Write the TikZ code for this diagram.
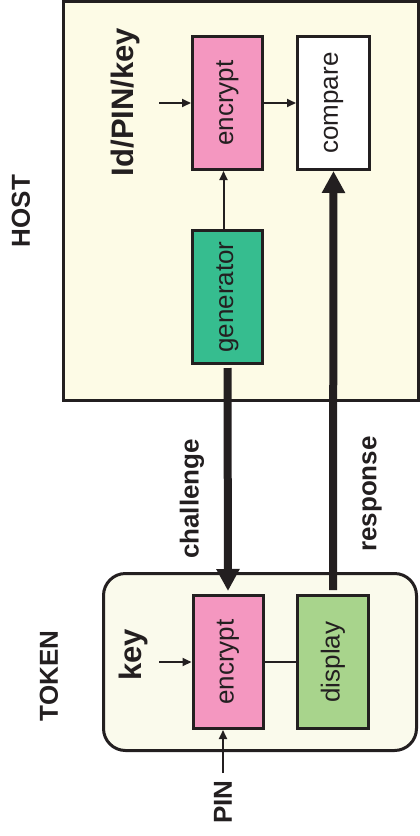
\documentclass[tikz,border=0pt]{standalone}
\usepackage{fontspec}
\setmainfont{Liberation Sans}
\usetikzlibrary{arrows.meta}
\definecolor{ink}{HTML}{231F20}
\definecolor{hostbg}{HTML}{FDFBE6}
\definecolor{tokbg}{HTML}{FAFAEC}
\definecolor{pinkc}{HTML}{F497C0}
\definecolor{tealc}{HTML}{36BD8F}
\definecolor{greenc}{HTML}{A8D48C}
\tikzset{
  blk/.style={draw=ink, line width=3pt, minimum width=70pt, minimum height=133pt, inner sep=0pt, text=ink},
  lbl/.style={inner sep=0pt, text=ink},
  thin/.style={draw=ink, line width=2pt, -{Triangle[length=9pt,width=8pt]}},
  plain/.style={draw=ink, line width=2pt},
  thick/.style={draw=ink, line width=8pt, -{Triangle[length=22pt,width=22pt]}},
}
\newcommand{\boxtxt}[1]{\rotatebox{90}{\fontsize{26}{30}\selectfont #1}}
\newcommand{\bigtxt}[1]{\rotatebox{90}{\fontsize{31}{36}\selectfont\bfseries #1}}
\newcommand{\lbltxt}[1]{\rotatebox{90}{\fontsize{26}{30}\selectfont\bfseries #1}}
\begin{document}
\begin{tikzpicture}[x=1pt,y=-1pt]
\useasboundingbox (0,0) rectangle (420,836);
% frames
\draw[draw=ink, fill=hostbg, line width=3.5pt] (63.5,1.5) rectangle (418.5,400.5);
\draw[draw=ink, fill=tokbg, line width=3pt, rounded corners=22pt] (103.5,573.5) rectangle (416.5,750.5);
% host blocks
\node[blk, fill=pinkc] (henc) at (227.5,103) {\boxtxt{encrypt}};
\node[blk, fill=white, minimum width=72pt] (cmp) at (333.5,103) {\boxtxt{compare}};
\node[blk, fill=tealc] (gen) at (227.5,297) {\boxtxt{generator}};
% token blocks
\node[blk, fill=pinkc] (tenc) at (228,662) {\boxtxt{encrypt}};
\node[blk, fill=greenc, minimum width=71pt] (disp) at (333,662) {\boxtxt{display}};
% labels
\node[lbl] (host) at (21,211) {\lbltxt{HOST}};
\node[lbl] (idpin) at (125,102) {\bigtxt{Id/PIN/key}};
\node[lbl] (chal) at (192,499) {\lbltxt{challenge}};
\node[lbl] (resp) at (372,494) {\lbltxt{response}};
\node[lbl] (token) at (49,676) {\lbltxt{TOKEN}};
\node[lbl] (key) at (133,655) {\bigtxt{key}};
\node[lbl] (pin) at (223,802) {\lbltxt{PIN}};
% free ends
\coordinate (hin) at (159,103);
\coordinate (kin) at (159,662);
\coordinate (pinin) at (223,773);
% connectors
\draw[thin] (hin) -- (henc.west);
\draw[thin] (henc.east) -- (cmp.west);
\draw[thin] ([xshift=-4pt]gen.north) -- ([xshift=-4pt]henc.south);
\draw[thin] (kin) -- (tenc.west);
\draw[plain] (tenc.east) -- (disp.west);
\draw[thin] (pinin) -- (pinin |- tenc.south);
\draw[thick, shorten <=3pt, shorten >=3pt] (gen.south) -- (tenc.north);
\draw[thick, shorten <=4pt] (disp.north) -- (cmp.south);
\end{tikzpicture}
\end{document}
